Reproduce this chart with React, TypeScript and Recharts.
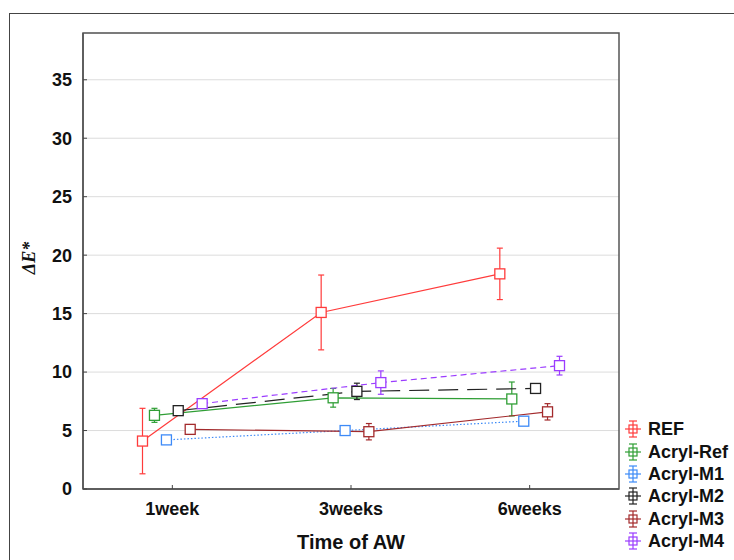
import {
  ComposedChart,
  Line,
  XAxis,
  YAxis,
  CartesianGrid,
  ErrorBar,
  ReferenceArea,
} from 'recharts'

const weekLabels = ['1week', '3weeks', '6weeks']
const weekPositions = [1, 2, 3]
const yTicks = [0, 5, 10, 15, 20, 25, 30, 35]

const seriesNames = ['REF', 'Acryl-Ref', 'Acryl-M1', 'Acryl-M2', 'Acryl-M3', 'Acryl-M4']

const refMeans = [4.1, 15.1, 18.4]
const refErrors = [2.8, 3.2, 2.2]
const acrylRefMeans = [6.3, 7.8, 7.7]
const acrylRefErrors = [0.6, 0.8, 1.45]
const acrylM1Means = [4.2, 5.0, 5.8]
const acrylM1Errors = [0.2, 0.2, 0.2]
const acrylM2Means = [6.7, 8.35, 8.6]
const acrylM2Errors = [0.3, 0.7, 0.2]
const acrylM3Means = [5.1, 4.9, 6.6]
const acrylM3Errors = [0.3, 0.7, 0.7]
const acrylM4Means = [7.3, 9.1, 10.55]
const acrylM4Errors = [0.3, 1.0, 0.8]

const allMeans = [refMeans, acrylRefMeans, acrylM1Means, acrylM2Means, acrylM3Means, acrylM4Means]
const allErrors = [refErrors, acrylRefErrors, acrylM1Errors, acrylM2Errors, acrylM3Errors, acrylM4Errors]

// styling per series (same order as seriesNames)
const colors = ['#ff3b3b', '#2f9e35', '#3d8af7', '#222222', '#a32a2c', '#9b3cff']
const dashes = ['', '', '1.5 2', '20 9', '', '6 4']
// small horizontal dodge so the error bars don't overlap
const dodge = [-0.167, -0.1, -0.033, 0.033, 0.1, 0.167]

const FONT = "Arial, 'Liberation Sans', sans-serif"

const seriesData = seriesNames.map((name, s) =>
  weekPositions.map((w, i) => ({
    x: w + dodge[s],
    y: allMeans[s][i],
    err: allErrors[s][i],
  }))
)

function SquareDot(color: string) {
  return (p: any) => (
    <rect
      key={`sq-${p.index}`}
      x={p.cx - 5}
      y={p.cy - 5}
      width={10}
      height={10}
      fill="#fff"
      stroke={color}
      strokeWidth={1.3}
    />
  )
}

function LegendIcon({ color }: { color: string }) {
  return (
    <svg width={16} height={18} style={{ display: 'block' }}>
      <line x1={8} y1={1} x2={8} y2={17} stroke={color} strokeWidth={1.2} />
      <line x1={4} y1={1} x2={12} y2={1} stroke={color} strokeWidth={1.2} />
      <line x1={4} y1={17} x2={12} y2={17} stroke={color} strokeWidth={1.2} />
      <line x1={0} y1={9} x2={16} y2={9} stroke={color} strokeWidth={1.2} />
      <rect x={4} y={5} width={8} height={8} fill="none" stroke={color} strokeWidth={1.2} />
    </svg>
  )
}

export default function App() {
  return (
    <div
      style={{
        position: 'absolute',
        left: 0,
        top: 0,
        width: 734,
        height: 560,
        background: '#fff',
        overflow: 'hidden',
      }}
    >
      <div
        style={{
          position: 'absolute',
          left: 9,
          top: 13,
          width: 760,
          height: 600,
          borderLeft: '1.5px solid #444',
          borderTop: '1.5px solid #444',
        }}
      />
      <ComposedChart
        width={734}
        height={560}
        margin={{ top: 33, right: 115, left: 13, bottom: 41 }}
        style={{ position: 'absolute', left: 0, top: 0 }}
      >
        <CartesianGrid vertical={false} stroke="#dcdcdc" />
        <XAxis
          type="number"
          dataKey="x"
          domain={[0.5, 3.5]}
          ticks={weekPositions}
          allowDataOverflow
          tickFormatter={(v: number) => weekLabels[weekPositions.indexOf(v)] ?? ''}
          height={30}
          tickSize={-4}
          tickMargin={17}
          axisLine={{ stroke: '#555', strokeWidth: 1.5 }}
          tickLine={{ stroke: '#444' }}
          tick={{ fill: '#111', fontSize: 18, fontWeight: 700, fontFamily: FONT }}
          label={{
            content: ({ viewBox }: any) => (
              <text
                x={viewBox.x + viewBox.width / 2}
                y={viewBox.y + 60}
                textAnchor="middle"
                fill="#111"
                fontSize={20}
                fontWeight={700}
                fontFamily={FONT}
              >
                Time of AW
              </text>
            ),
          }}
        />
        <YAxis
          type="number"
          domain={[0, 39]}
          ticks={yTicks}
          allowDataOverflow
          width={70}
          tickSize={-4}
          tickMargin={15}
          axisLine={{ stroke: '#555', strokeWidth: 1.5 }}
          tickLine={{ stroke: '#444' }}
          tick={{ fill: '#111', fontSize: 18, fontWeight: 700, fontFamily: FONT }}
          label={{
            content: ({ viewBox }: any) => {
              const cx = viewBox.x + 16
              const cy = viewBox.y + viewBox.height / 2 - 3
              return (
                <text
                  x={cx}
                  y={cy}
                  dy="0.35em"
                  transform={`rotate(-90, ${cx}, ${cy})`}
                  textAnchor="middle"
                  fill="#111"
                  fontSize={18}
                  fontWeight={700}
                  fontStyle="italic"
                  fontFamily="'Liberation Serif', 'Times New Roman', serif"
                >
                  ΔE*
                </text>
              )
            },
          }}
        />
        <ReferenceArea
          x1={0.5}
          x2={3.5}
          y1={0}
          y2={39}
          fill="none"
          stroke="#555"
          strokeWidth={1.5}
          ifOverflow="visible"
        />
        {seriesNames.map((name, s) => (
          <Line
            key={name}
            name={name}
            data={seriesData[s]}
            dataKey="y"
            type="linear"
            stroke={colors[s]}
            strokeWidth={1.2}
            strokeDasharray={dashes[s] || undefined}
            dot={SquareDot(colors[s])}
            activeDot={false}
            isAnimationActive={false}
          >
            <ErrorBar
              dataKey="err"
              direction="y"
              width={3}
              stroke={colors[s]}
              strokeWidth={1.2}
              isAnimationActive={false}
            />
          </Line>
        ))}
      </ComposedChart>
      <div style={{ position: 'absolute', left: 625, top: 418 }}>
        {seriesNames.map((name, s) => (
          <div
            key={name}
            style={{ display: 'flex', alignItems: 'center', height: 22.4 }}
          >
            <LegendIcon color={colors[s]} />
            <span
              style={{
                marginLeft: 7,
                fontFamily: FONT,
                fontWeight: 700,
                fontSize: 18,
                color: '#111',
                lineHeight: '20px',
              }}
            >
              {name}
            </span>
          </div>
        ))}
      </div>
    </div>
  )
}
